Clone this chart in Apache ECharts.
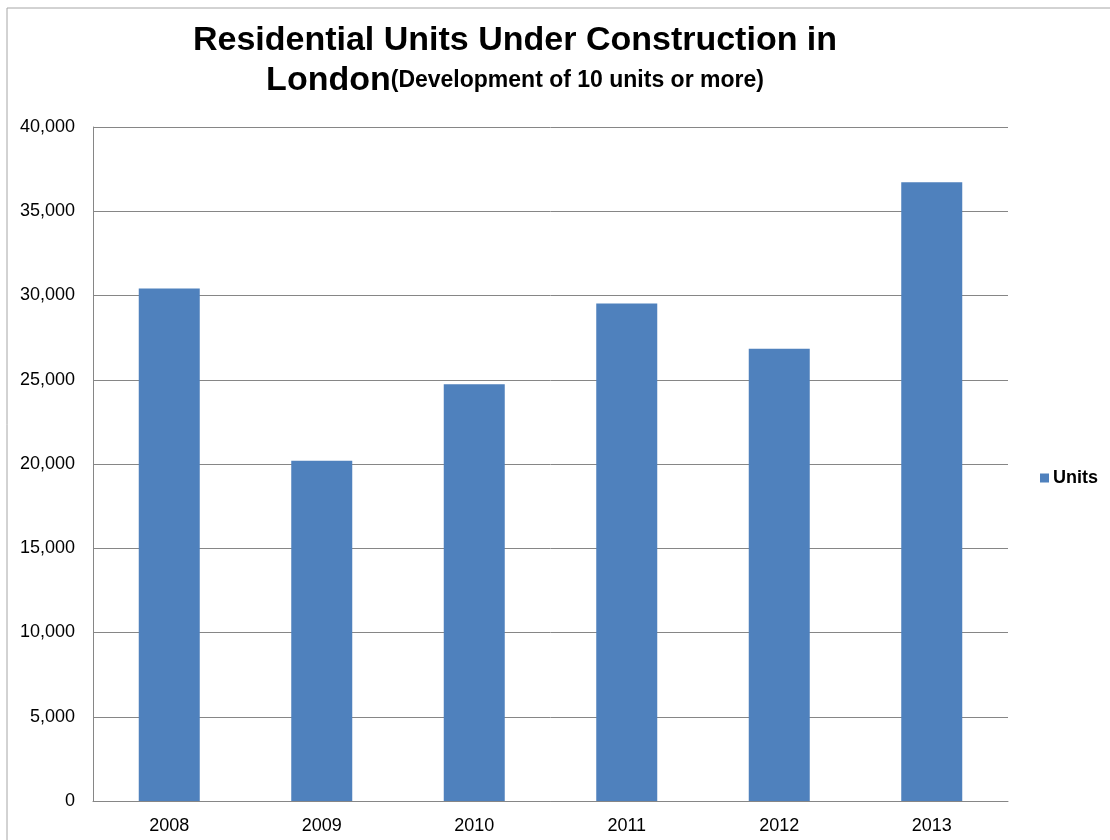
<!DOCTYPE html>
<html>
<head>
<meta charset="utf-8">
<script src="https://cdn.jsdelivr.net/npm/echarts@6/dist/echarts.min.js"></script>
<style>
html,body{margin:0;padding:0;background:#fff;}
#chart{width:1110px;height:840px;}
</style>
</head>
<body>
<div id="chart"></div>
<script>
const categories = ['2008', '2009', '2010', '2011', '2012', '2013'];
const unitsValues = [30420, 20200, 24730, 29530, 26840, 36720];
const seriesName = 'Units';
const yMin = 0, yMax = 40000, yInterval = 5000;

const FONT = '"Liberation Sans", Arial, sans-serif';
const chart = echarts.init(document.getElementById('chart'), null, {renderer: 'canvas'});
chart.setOption({
  backgroundColor: '#ffffff',
  animation: false,
  graphic: [{
    type: 'rect',
    shape: {x: 7, y: 8, width: 1300, height: 1000},
    style: {fill: 'none', stroke: '#a6a6a6', lineWidth: 1},
    silent: true
  }],
  title: {
    left: 510,
    top: 16,
    textAlign: 'center',
    text: '{a|Residential Units Under Construction in}\n{a|London}{b|(Development of 10 units or more)}',
    textStyle: {
      rich: {
        a: {fontSize: 34, fontWeight: 'bold', fontFamily: FONT, color: '#000', lineHeight: 40},
        b: {fontSize: 23, fontWeight: 'bold', fontFamily: FONT, color: '#000', lineHeight: 40}
      }
    }
  },
  legend: {
    data: [seriesName],
    left: 1035,
    top: 464,
    icon: 'rect',
    itemWidth: 9,
    itemHeight: 9,
    itemGap: 10,
    textStyle: {fontSize: 18, fontWeight: 'bold', fontFamily: FONT, color: '#000', padding: [0, 0, 0, -1]}
  },
  grid: {left: 93, right: 102, top: 127, bottom: 39, containLabel: false},
  xAxis: {
    type: 'category',
    data: categories,
    axisLine: {show: true, lineStyle: {color: '#868686', width: 1}},
    axisTick: {show: false},
    axisLabel: {fontSize: 18, fontFamily: FONT, color: '#000', margin: 16}
  },
  yAxis: {
    type: 'value',
    min: yMin,
    max: yMax,
    interval: yInterval,
    axisLine: {show: true, lineStyle: {color: '#868686', width: 1}},
    axisTick: {show: false},
    splitLine: {show: true, lineStyle: {color: '#868686', width: 1}},
    axisLabel: {
      fontSize: 18, fontFamily: FONT, color: '#000', margin: 18,
      formatter: v => v.toLocaleString('en-US')
    }
  },
  series: [{
    name: seriesName,
    type: 'bar',
    data: unitsValues,
    barWidth: '40%',
    itemStyle: {color: '#4F81BD'}
  }]
});
</script>
</body>
</html>
